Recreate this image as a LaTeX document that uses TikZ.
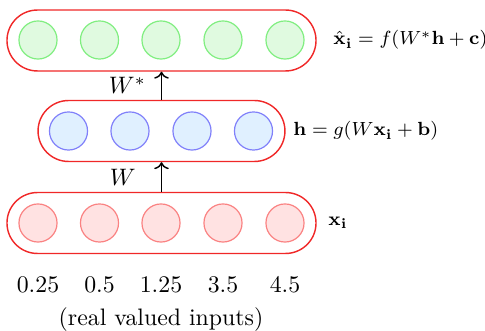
\documentclass[tikz,border=0pt]{standalone}
\usepackage{amsmath,amssymb}
\usepackage{xcolor}
\usepackage{tikz}
\usetikzlibrary{arrows.meta, positioning, shapes.misc}

\definecolor{boxred}{RGB}{240,40,40}
\definecolor{outfill}{RGB}{224,250,224}
\definecolor{outdraw}{RGB}{128,238,128}
\definecolor{hidfill}{RGB}{224,240,255}
\definecolor{hiddraw}{RGB}{128,128,250}
\definecolor{infill}{RGB}{255,226,226}
\definecolor{indraw}{RGB}{250,130,130}

\begin{document}
\begin{tikzpicture}[
    x=0.42pt, y=0.42pt,
    layer/.style={draw=boxred, line width=0.6pt, rounded rectangle, minimum height=25.6pt, inner sep=0pt},
    neuron/.style={circle, line width=0.5pt, minimum size=16pt, inner sep=0pt},
    outn/.style={neuron, draw=outdraw, fill=outfill},
    hidn/.style={neuron, draw=hiddraw, fill=hidfill},
    inn/.style={neuron, draw=indraw, fill=infill},
    eq/.style={anchor=west, inner sep=0pt, font=\fontsize{8.4}{10}\selectfont}
]
\useasboundingbox (0,0) rectangle (485,331);

% layers
\node[layer, minimum width=129.8pt] (output) at (161.5,290.5) {};
\node[layer, minimum width=103.7pt] (hidden) at (161.5,200) {};
\node[layer, minimum width=129.8pt] (input) at (161.5,108) {};

% neurons
\foreach \x [count=\i] in {38,99.5,161,223,285} {
    \node[outn] (o\i) at (\x,291) {};
    \node[inn] (x\i) at (\x,108) {};
}
\foreach \x [count=\i] in {68.5,130,192,253.5} {
    \node[hidn] (h\i) at (\x,200) {};
}

% weights
\draw[->, line width=0.6pt] (input.north) -- node[left=7.2pt] {$W$} (hidden.south);
\draw[->, line width=0.6pt] (hidden.north) -- node[left=3pt] {$W^*$} (output.south);

% equations
\node[eq] (outeq) at (333,291) {$\hat{\mathbf{x}}_{\mathbf{i}} = f(W^*\mathbf{h}+\mathbf{c})$};
\node[eq] (hideq) at (293,200) {$\mathbf{h} = g(W\mathbf{x_i}+\mathbf{b})$};
\node[eq] (ineq) at (328,108) {$\mathbf{x_i}$};

% input values
\foreach \v [count=\i] in {0.25,0.5,1.25,3.5,4.5} {
    \node (v\i) at (x\i |- 0,46) {$\v$};
}
\node (caption) at (161,11) {(real valued inputs)};

\end{tikzpicture}
\end{document}
